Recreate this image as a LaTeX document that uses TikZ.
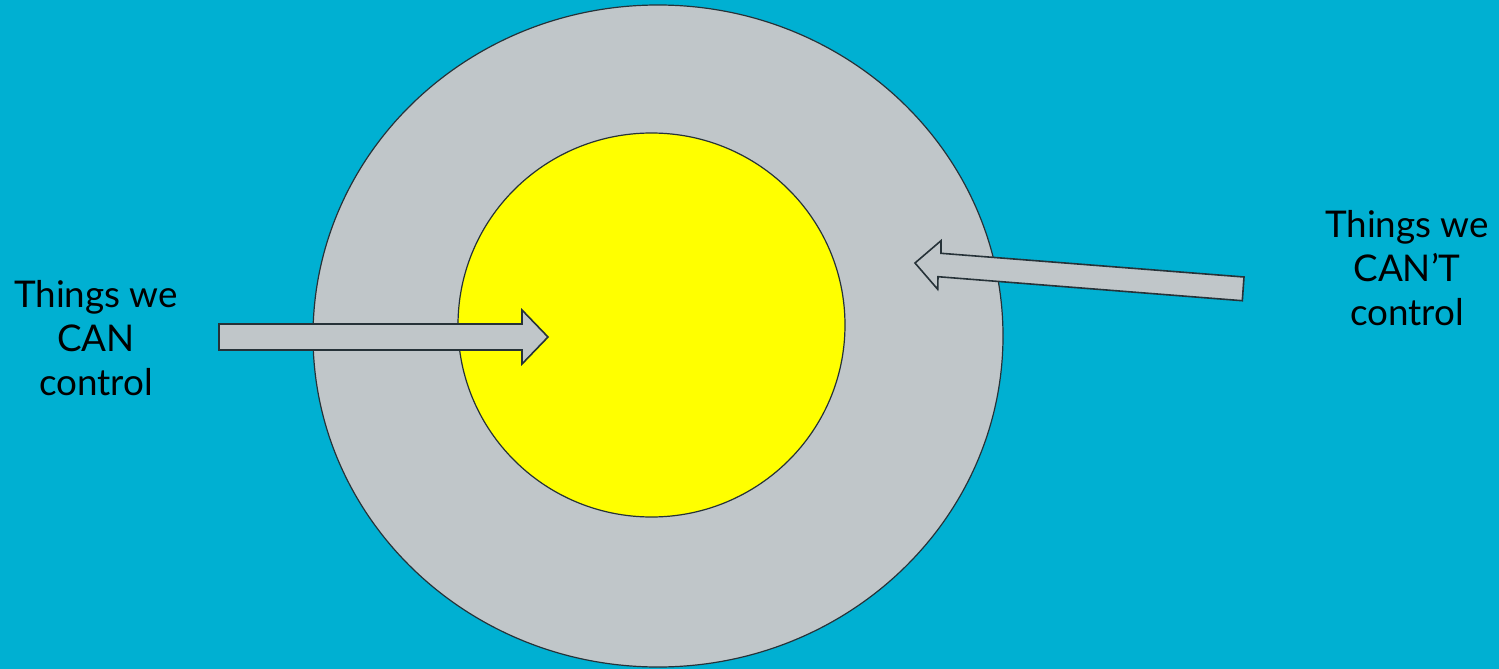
\documentclass[tikz,border=0pt]{standalone}
\usepackage{fontspec}
\setmainfont{Lato}
\usetikzlibrary{shapes.geometric}
\definecolor{bgblue}{RGB}{0,176,210}
\definecolor{ringgray}{RGB}{192,198,201}
\definecolor{coreyellow}{RGB}{255,255,0}
\definecolor{edgedark}{RGB}{38,50,56}
\tikzset{
  disc/.style={ellipse, draw=edgedark, line width=1.2pt, inner sep=0pt},
  arrowshape/.style={fill=ringgray, draw=edgedark, line width=1.6pt, line join=miter},
  label/.style={align=center, font=\fontsize{36.8}{44}\selectfont, text=black, inner sep=0pt}
}
\begin{document}
\begin{tikzpicture}[x=1pt,y=-1pt]
\fill[bgblue] (0,0) rectangle (1499,669);
\useasboundingbox (0,0) rectangle (1499,669);
\node[disc, fill=ringgray, minimum width=690pt, minimum height=662pt] (outer) at (658,336) {};
\node[disc, fill=coreyellow, minimum width=387pt, minimum height=384pt] (inner) at (651.5,325) {};
\draw[arrowshape] (219,324) -- (522,324) -- (522,310) -- (548,337) -- (522,364) -- (522,350) -- (219,350) -- cycle;
\draw[arrowshape] (1244,277) -- (941,253.3) -- (941,240.7) -- (915,263) -- (937.7,289.3) -- (938,276.7) -- (1242.3,300.7) -- cycle;
\node[label] (can) at (96,338) {Things we\\CAN\\control};
\node[label] (cant) at (1407,268) {Things we\\CAN’T\\control};
\end{tikzpicture}
\end{document}
